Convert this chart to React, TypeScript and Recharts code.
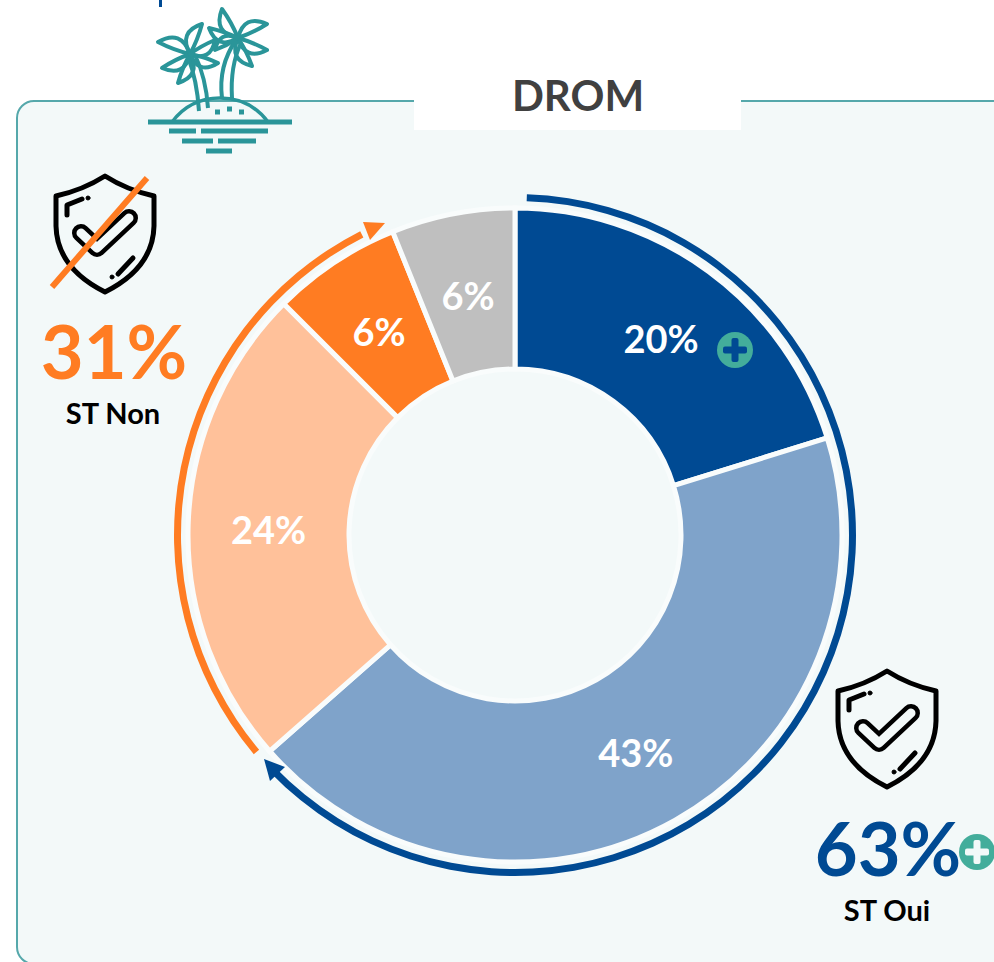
import { PieChart, Pie, Cell } from "recharts"

const categories = ["ST Oui +", "ST Oui", "ST Non", "ST Non -", "NSP"]
const values = [20.2, 43.3, 24, 6.4, 6.1]
const labels = ["20%", "43%", "24%", "6%", "6%"]
const COLORS = ["#004a93", "#7fa3ca", "#ffc19a", "#ff7c22", "#bfbfbf"]

// outer brackets, in degrees clockwise from the top: gap, ST Oui, gap, ST Non, gap
const bracketNames = ["gap1", "oui", "gap2", "non", "gap3"]
const bracketValues = [2, 224, 4, 103, 27]
const BRACKET_COLORS = ["none", "#004a93", "none", "#ff7c22", "none"]

const FONT = "Lato, sans-serif"
const BG = "#f3f9f9"
const TEAL = "#2a9599"

const sliceData = categories.map((name, i) => ({ name, value: values[i], label: labels[i] }))
const bracketData = bracketNames.map((name, i) => ({ name, value: bracketValues[i] }))

function renderLabel(props: any) {
  const rad = Math.PI / 180
  const r = (props.innerRadius + props.outerRadius) / 2
  const x = props.cx + r * Math.cos(-props.midAngle * rad)
  const y = props.cy + r * Math.sin(-props.midAngle * rad)
  return (
    <text x={x} y={y + 2} fill="#fff" fontFamily={FONT} fontWeight={700} fontSize={38} textAnchor="middle" dominantBaseline="central">
      {props.payload.label}
    </text>
  )
}

function Shield({ x, y }: { x: number; y: number }) {
  return (
    <g transform={`translate(${x} ${y})`} fill="none" stroke="#000" strokeLinecap="round" strokeLinejoin="round">
      <path d="M0 0 Q-22 14 -49 20 L-49 50 Q-48 92 0 116 Q48 92 49 50 L49 20 Q22 14 0 0 Z" strokeWidth={5} />
      <polyline points="-24,57 -8,72 24,42" strokeWidth={18} />
      <polyline points="-24,57 -8,72 24,42" strokeWidth={9} stroke={BG} />
      <polyline points="-38,39 -38,29 -23,23" strokeWidth={5} />
      <line x1={13} y1={98} x2={28} y2={82} strokeWidth={5} />
      <circle cx={-17} cy={22} r={2} fill="#000" />
      <circle cx={7} cy={101} r={2} fill="#000" />
    </g>
  )
}

function Plus({ x, y, color }: { x: number; y: number; color: string }) {
  return (
    <g>
      <circle cx={x} cy={y} r={18} fill="#43ad9b" />
      <rect x={x - 12} y={y - 3.5} width={24} height={7} rx={2} fill={color} />
      <rect x={x - 3.5} y={y - 12} width={7} height={24} rx={2} fill={color} />
    </g>
  )
}

function leaf(cx: number, cy: number, tx: number, ty: number, bulge: number) {
  const mx = (cx + tx) / 2
  const my = (cy + ty) / 2
  const nx = -(ty - cy) * bulge
  const ny = (tx - cx) * bulge
  return `M${cx} ${cy} Q${mx + nx} ${my + ny} ${tx} ${ty} Q${mx - nx * 0.1} ${my - ny * 0.1} ${cx} ${cy} Z`
}

const leftLeaves = [[158, 42, 0.6], [162, 68, -0.6], [178, 83, -0.6], [202, 24, -0.6], [218, 63, 0.6], [215, 40, 0.6]]
const rightLeaves = [[222, 9, -0.6], [209, 28, -0.6], [267, 24, -0.6], [267, 50, 0.6], [252, 66, 0.6], [215, 50, 0.6]]

function Island() {
  return (
    <g fill="none" stroke={TEAL} strokeLinejoin="round">
      {leftLeaves.map((l, i) => (
        <path key={i} d={leaf(190, 54, l[0], l[1], l[2])} strokeWidth={4} />
      ))}
      {rightLeaves.map((l, i) => (
        <path key={i} d={leaf(238, 38, l[0], l[1], l[2])} strokeWidth={4} />
      ))}
      <path d="M188 57 Q197 80 199 111" strokeWidth={4} />
      <path d="M195 55 Q206 78 208 108" strokeWidth={4} />
      <path d="M222 98 Q218 66 236 40" strokeWidth={4} />
      <path d="M232 98 Q230 66 241 43" strokeWidth={4} />
      <path d="M172 122 Q190 98 220 98 Q250 98 268 122" strokeWidth={3.5} />
      <path d="M148 122 H292" strokeWidth={5} />
      <path d="M169 131 H196 M201 131 H268 M182 141 H213 M218 141 H256 M206 151 H232" strokeWidth={5} />
      <path d="M215 112 H220 M227 109 H232 M239 112 H244" strokeWidth={5} />
    </g>
  )
}

export default function App() {
  return (
    <div style={{ position: "absolute", left: 0, top: 0, width: 994, height: 962, overflow: "hidden", background: "#fff" }}>
      <div style={{ position: "absolute", left: 16, top: 100, width: 1100, height: 865, boxSizing: "border-box", background: BG, border: "2px solid #55a8ab", borderRadius: 18 }} />
      <div style={{ position: "absolute", left: 159, top: 0, width: 3, height: 7, background: "#004a93" }} />
      <div style={{ position: "absolute", left: 0, top: 0 }}>
        <PieChart width={994} height={962} margin={{ top: 0, right: 0, bottom: 0, left: 0 }}>
          <Pie data={bracketData} dataKey="value" nameKey="name" cx={515} cy={535} innerRadius={334} outerRadius={341} startAngle={90} endAngle={-270} stroke="none" isAnimationActive={false}>
            {bracketData.map((_, i) => <Cell key={i} fill={BRACKET_COLORS[i]} />)}
          </Pie>
          <Pie data={sliceData} dataKey="value" nameKey="name" cx={515} cy={535} innerRadius={166} outerRadius={327} startAngle={90} endAngle={-270} stroke="#f9fcfc" strokeWidth={5} label={renderLabel} labelLine={false} isAnimationActive={false}>
            {sliceData.map((_, i) => <Cell key={i} fill={COLORS[i]} />)}
          </Pie>
        </PieChart>
      </div>
      <svg width={994} height={962} style={{ position: "absolute", left: 0, top: 0 }}>
        <rect x={414} y={90} width={327} height={40} fill="#fff" />
        <text x={578} y={111} fontFamily={FONT} fontWeight={700} fontSize={42} fill="#404040" textAnchor="middle">DROM</text>
        <Island />
        <polygon points="264,759 285,767 270,781" fill="#004a93" />
        <polygon points="385,223 363,222 370,240" fill="#ff7c22" />
        <Shield x={105} y={176} />
        <line x1={147} y1={178} x2={52} y2={287} stroke="#ff7c22" strokeWidth={6} />
        <Shield x={887} y={671} />
        <text x={114} y={379} fontFamily={FONT} fontWeight={700} fontSize={74} fill="#ff7c22" textAnchor="middle">31%</text>
        <text x={113} y={424} fontFamily={FONT} fontWeight={700} fontSize={29} fill="#000" textAnchor="middle">ST Non</text>
        <text x={888} y={876} fontFamily={FONT} fontWeight={700} fontSize={74} fill="#004a93" textAnchor="middle">63%</text>
        <text x={887} y={921} fontFamily={FONT} fontWeight={700} fontSize={29} fill="#000" textAnchor="middle">ST Oui</text>
        <Plus x={735} y={350} color="#004a93" />
        <Plus x={977} y={852} color={BG} />
      </svg>
    </div>
  )
}
